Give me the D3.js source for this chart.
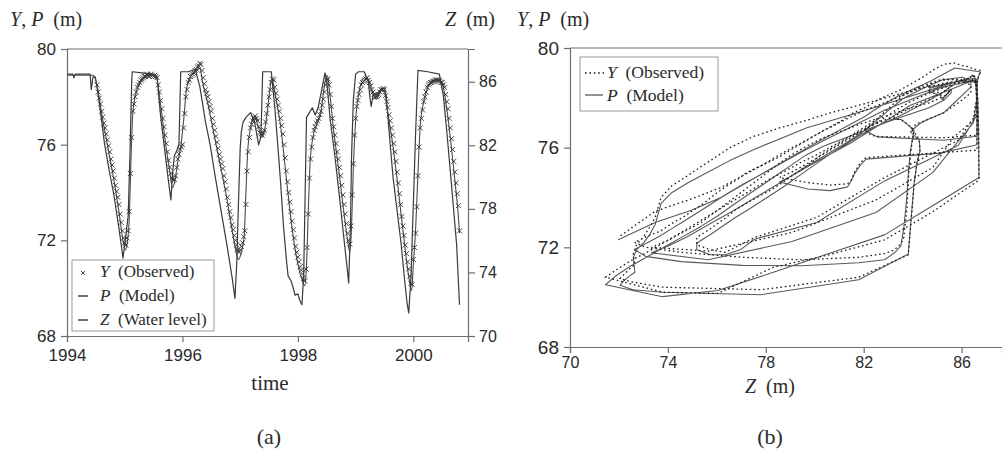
<!DOCTYPE html>
<html><head><meta charset="utf-8">
<script src="https://cdn.jsdelivr.net/npm/d3@7"></script>
<style>body{margin:0;background:#fff} svg{display:block}</style>
</head><body><svg id="c" width="1002" height="449"></svg>
<script>
// ---------------- DATA ----------------
// Observed Y (m), regular sampling every obsStep years, one array per year
const obsStep = 0.02;
const obs1994Start = 1994.52;
const obs1994 = [78.5,78.2,77.95,77.7,77.4, 77.15,76.9,76.7,76.45,76.2, 75.95,75.7,75.4,75.15,74.9, 74.6,74.3,74.05,73.8,73.5, 73.1,72.75,72.4,72.1];
const obs1995 = [71.9,71.8,72.1,72.4,73.2, 74.8,76.3,77.4,77.7,78.0, 78.2,78.4,78.5,78.6,78.7, 78.75,78.8,78.85,78.85,78.95, 78.9,78.85,78.9,78.95,78.9, 78.85,78.9,78.85,78.8,78.5, 78.2,77.85,77.5,77.1,76.75, 76.4,76.05,75.7,75.35,75.05, 74.8,74.6,74.5,74.55,74.7, 75.05,75.4,75.6,75.8,75.9];
const obs1996 = [76.0,76.7,77.3,78.0,78.3, 78.6,78.7,78.85,78.9,78.95, 79.0,79.1,79.15,79.25,79.3, 79.4,79.35,79.1,78.8,78.55, 78.3,78.15,78.0,77.8,77.6, 77.4,77.1,76.85,76.6,76.35, 76.1,75.85,75.6,75.4,75.2, 75.0,74.7,74.45,74.15,73.8, 73.5,73.2,72.95,72.65,72.45, 72.2,72.0,71.8,71.6,71.5];
const obs1997 = [71.6,71.75,71.9,72.15,72.4, 73.5,74.9,75.7,76.3,76.7, 76.85,77.0,77.1,77.2,77.1, 77.0,76.75,76.5,76.45,76.4, 76.5,76.6,76.95,77.3,77.65, 78.0,78.3,78.6,78.75,78.7, 78.4,78.15,77.9,77.65,77.4, 77.1,76.8,76.45,76.0,75.45, 74.9,74.45,74.0,73.6,73.2, 72.8,72.45,72.1,71.75,71.5];
const obs1998 = [71.3,71.1,70.9,70.75,70.6, 70.4,70.3,70.8,71.7,73.1, 74.6,75.4,75.9,76.3,76.6, 76.75,76.9,77.0,77.1,77.25, 77.4,77.65,77.9,78.2,78.5, 78.7,78.75,78.5,78.1,77.6, 77.1,76.75,76.4,76.05,75.7, 75.4,75.05,74.7,74.3,73.9, 73.5,73.1,72.7,72.3,72.0, 71.85,72.6,73.9,75.2,76.4];
const obs1999 = [77.1,77.6,77.85,78.1,78.3, 78.5,78.6,78.65,78.7,78.75, 78.8,78.7,78.6,78.45,78.3, 78.2,78.1,78.0,78.0,78.05, 78.1,78.2,78.3,78.3,78.35, 78.3,78.05,77.8,77.55,77.25, 77.0,76.7,76.4,76.05,75.7, 75.3,74.85,74.4,73.95,73.5, 73.0,72.6,72.2,71.8,71.45, 71.1,70.8,70.5,70.2,70.15];
const obs2000 = [71.2,71.7,72.3,73.4,74.7, 75.9,76.7,77.1,77.45,77.8, 78.0,78.2,78.4,78.5,78.55, 78.6,78.6,78.65,78.65,78.7, 78.7,78.7,78.7,78.65,78.6, 78.6,78.5,78.4,78.1,77.8, 77.5,77.1,76.7,76.25,75.8, 75.3,74.85,74.4,73.95,73.45, 72.4];

// Model P (m)
const pTime = [1994.00,1994.45,1994.52,1994.60,1994.70,1994.80,1994.90,1994.97,1995.01,1995.05,1995.08,1995.11,1995.14,1995.20,1995.30,1995.45,1995.55,1995.62,1995.70,1995.78,1995.83,1995.87,1995.92,1995.97,1996.02,1996.07,1996.15,1996.25,1996.30,1996.35,1996.45,1996.55,1996.65,1996.75,1996.85,1996.93,1996.97,1997.02,1997.07,1997.10,1997.13,1997.18,1997.25,1997.32,1997.38,1997.43,1997.50,1997.55,1997.60,1997.70,1997.80,1997.90,1998.00,1998.08,1998.12,1998.15,1998.18,1998.21,1998.26,1998.32,1998.40,1998.47,1998.51,1998.55,1998.62,1998.70,1998.78,1998.85,1998.90,1998.93,1998.96,1999.00,1999.06,1999.15,1999.22,1999.30,1999.36,1999.44,1999.50,1999.56,1999.65,1999.75,1999.85,1999.92,1999.97,2000.00,2000.04,2000.08,2000.12,2000.18,2000.25,2000.35,2000.45,2000.52,2000.58,2000.65,2000.72,2000.78,2000.80];
const pValue = [78.9,78.9,78.5,77.3,76.0,74.7,73.2,72.0,71.6,72.0,73.0,75.5,77.3,78.2,78.7,78.9,78.8,77.7,76.2,74.9,74.2,74.5,75.3,75.9,77.0,78.3,78.9,79.1,79.2,78.6,77.6,76.4,75.2,74.0,72.6,71.5,71.2,71.5,72.2,74.0,75.7,76.7,77.2,76.7,76.3,76.7,78.0,78.8,78.2,76.8,74.6,72.5,71.0,70.3,70.1,71.0,73.2,75.2,76.3,76.8,77.4,78.6,78.9,78.2,76.6,75.1,73.5,72.2,71.5,72.6,75.0,77.0,78.2,78.8,78.7,78.1,77.9,78.3,78.2,77.3,75.9,73.9,71.8,70.5,69.9,71.0,72.5,74.8,76.8,77.8,78.4,78.7,78.7,78.4,77.5,76.1,74.5,73.0,72.3];

// Water level Z (m)
const zTime = [1994.00,1994.10,1994.12,1994.14,1994.40,1994.42,1994.45,1994.49,1994.55,1994.65,1994.73,1994.81,1994.88,1994.94,1994.97,1995.00,1995.06,1995.09,1995.12,1995.13,1995.30,1995.45,1995.56,1995.62,1995.70,1995.76,1995.80,1995.83,1995.86,1995.90,1995.94,1995.97,1996.10,1996.22,1996.30,1996.40,1996.48,1996.57,1996.67,1996.77,1996.86,1996.91,1996.94,1996.97,1997.00,1997.02,1997.05,1997.10,1997.18,1997.25,1997.32,1997.36,1997.39,1997.48,1997.54,1997.60,1997.65,1997.70,1997.75,1997.80,1997.83,1997.88,1997.92,1997.95,1998.00,1998.03,1998.07,1998.10,1998.13,1998.15,1998.20,1998.25,1998.30,1998.35,1998.40,1998.47,1998.50,1998.56,1998.64,1998.72,1998.80,1998.85,1998.88,1998.91,1998.93,1998.96,1999.00,1999.05,1999.15,1999.22,1999.25,1999.27,1999.30,1999.38,1999.45,1999.50,1999.53,1999.58,1999.65,1999.72,1999.79,1999.85,1999.89,1999.92,1999.96,2000.00,2000.04,2000.08,2000.25,2000.45,2000.52,2000.58,2000.65,2000.70,2000.75,2000.80];
const zValue = [86.48,86.48,86.25,86.48,86.48,85.50,86.30,86.30,84.97,82.09,80.43,78.92,77.26,75.74,74.90,75.74,77.56,81.34,85.87,86.63,86.56,86.48,86.33,83.91,81.49,79.68,78.56,80.28,81.34,81.64,82.09,86.63,86.63,86.78,85.72,83.46,82.03,79.98,77.86,75.74,73.69,72.37,74.54,78.31,81.79,82.85,83.46,83.76,84.06,83.46,82.03,82.55,86.63,86.63,86.63,84.36,82.09,79.68,76.95,74.84,73.78,73.48,73.02,72.57,72.65,72.27,71.97,73.78,79.83,83.76,84.06,84.36,83.91,84.36,85.27,86.56,86.03,83.61,81.34,78.77,76.05,74.38,73.33,76.80,81.34,84.82,86.48,86.63,86.63,86.03,84.97,84.44,85.12,85.27,85.57,85.57,85.12,82.85,79.93,77.86,75.74,73.48,72.12,71.45,73.78,78.31,82.85,86.71,86.63,86.48,85.12,82.85,79.98,77.86,75.74,71.97];

// Ticks
const ypTicks = [68, 72, 76, 80];
const timeTicks = [1994, 1996, 1998, 2000];
const zTicksA = [70, 74, 78, 82, 86];
const zTicksB = [70, 74, 78, 82, 86];

// ---------------- BUILD ----------------
const obsBlocks = [[obs1994Start, obs1994],[1995, obs1995],[1996, obs1996],[1997, obs1997],[1998, obs1998],[1999, obs1999],[2000, obs2000]];
const obs = [];
obsBlocks.forEach(([s, arr]) => arr.forEach((v, i) => obs.push({t: +(s + i*obsStep).toFixed(3), y: v})));
const model = pTime.map((t, i) => ({t, v: pValue[i]}));
const water = zTime.map((t, i) => ({t, v: zValue[i]}));

const svg = d3.select('#c');
const INK = '#2a2a2a', AX = '#6e6e6e', LN = '#3a3a3a';
const SERIF = '"Liberation Serif", "DejaVu Serif", serif';
const SANS = '"Liberation Sans", Arial, sans-serif';

// Panel A scales
const xA = d3.scaleLinear().domain([1994, 2000.947]).range([67, 468]);
const yA = d3.scaleLinear().domain([68, 80]).range([336, 49]);
const zA = d3.scaleLinear().domain([70, 88.06]).range([336, 49]);
// Panel B scales
const xB = d3.scaleLinear().domain([70, 87.65]).range([570, 1002]);
const yB = d3.scaleLinear().domain([68, 80]).range([347, 48]);
// piecewise time -> value scales (library interpolation)
const zOfT = d3.scaleLinear().domain(zTime).range(zValue).clamp(true);
const pOfT = d3.scaleLinear().domain(pTime).range(pValue).clamp(true);

const defs = svg.append('defs');
defs.append('clipPath').attr('id','clipA').append('rect').attr('x',67).attr('y',49).attr('width',401).attr('height',287);
defs.append('clipPath').attr('id','clipB').append('rect').attr('x',570).attr('y',48).attr('width',432).attr('height',299);

function styleAxis(g, fs){
  g.selectAll('.domain').attr('stroke', AX).attr('stroke-width', 1.2);
  g.selectAll('.tick line').attr('stroke', AX).attr('stroke-width', 1.2);
  g.selectAll('.tick text').attr('fill', INK).style('font-family', SANS).style('font-size', fs + 'px');
}

// ---- Panel A ----
const gA = svg.append('g');
gA.append('line').attr('x1',67).attr('x2',468).attr('y1',49).attr('y2',49).attr('stroke',AX).attr('stroke-width',1.2);
const axL = gA.append('g').attr('transform','translate(67,0)')
  .call(d3.axisLeft(yA).tickValues(ypTicks).tickSize(6).tickPadding(5).tickFormat(d3.format('d')));
styleAxis(axL, 17);
const axB = gA.append('g').attr('transform','translate(0,336)')
  .call(d3.axisBottom(xA).tickValues(timeTicks).tickSize(6).tickPadding(7).tickFormat(d3.format('d')));
styleAxis(axB, 17);
const axR = gA.append('g').attr('transform','translate(468,0)')
  .call(d3.axisRight(zA).tickValues(zTicksA).tickSize(7).tickPadding(4).tickFormat(d3.format('d')));
styleAxis(axR, 16);

const plotA = gA.append('g').attr('clip-path','url(#clipA)');
plotA.append('path').datum(water).attr('fill','none').attr('stroke',LN).attr('stroke-width',1.2)
  .attr('stroke-linejoin','round')
  .attr('d', d3.line().x(d => xA(d.t)).y(d => zA(d.v)));
plotA.append('path').datum(model).attr('fill','none').attr('stroke','#4a4a4a').attr('stroke-width',1.1)
  .attr('stroke-linejoin','round')
  .attr('d', d3.line().curve(d3.curveMonotoneX).x(d => xA(d.t)).y(d => yA(d.v)));
const cross = 'M-2.5,-2.5L2.5,2.5M-2.5,2.5L2.5,-2.5';
plotA.selectAll('path.obs').data(obs).join('path').attr('class','obs')
  .attr('transform', d => `translate(${xA(d.t)},${yA(d.y)})`)
  .attr('d', cross).attr('stroke', '#333').attr('stroke-width', 0.9).attr('fill','none');

// Legend A
const lgA = gA.append('g');
lgA.append('rect').attr('x',72).attr('y',260).attr('width',142).attr('height',71).attr('fill','#fff').attr('stroke','#9a9a9a').attr('stroke-width',1);
lgA.append('path').attr('transform','translate(83,273)').attr('d','M-2,-2L2,2M-2,2L2,-2').attr('stroke','#333').attr('stroke-width',0.9);
lgA.append('line').attr('x1',78).attr('x2',88).attr('y1',296).attr('y2',296).attr('stroke',LN).attr('stroke-width',1.4);
lgA.append('line').attr('x1',78).attr('x2',88).attr('y1',320).attr('y2',320).attr('stroke',LN).attr('stroke-width',1.4);
function mathText(g, x, y, parts, fs, anchor){
  const t = g.append('text').attr('x',x).attr('y',y).attr('fill',INK)
    .style('font-family',SERIF).style('font-size',fs+'px').attr('text-anchor',anchor||'start');
  parts.forEach(([s, it]) => t.append('tspan').text(s).style('font-style', it ? 'italic' : 'normal'));
  return t;
}
mathText(lgA, 100, 277, [['Y',1],['\u2002(Observed)',0]], 17);
mathText(lgA, 100, 301, [['P',1],['\u2002(Model)',0]], 17);
mathText(lgA, 100, 325, [['Z',1],['\u2002(Water level)',0]], 17);

// Axis titles A
mathText(svg, 10, 26, [['Y',1],[', ',0],['P',1],['\u2002(m)',0]], 20);
mathText(svg, 445, 26, [['Z',1],['\u2002(m)',0]], 20);
mathText(svg, 270, 390, [['time',0]], 21, 'middle');
mathText(svg, 269, 444, [['(a)',0]], 22, 'middle');

// ---- Panel B ----
const gB = svg.append('g');
gB.append('line').attr('x1',570).attr('x2',1002).attr('y1',48).attr('y2',48).attr('stroke',AX).attr('stroke-width',1.2);
const bL = gB.append('g').attr('transform','translate(570,0)')
  .call(d3.axisLeft(yB).tickValues(ypTicks).tickSize(6).tickPadding(5).tickFormat(d3.format('d')));
styleAxis(bL, 19);
const bB = gB.append('g').attr('transform','translate(0,347)')
  .call(d3.axisBottom(xB).tickValues(zTicksB).tickSize(6).tickPadding(4).tickFormat(d3.format('d')));
styleAxis(bB, 16);

const plotB = gB.append('g').attr('clip-path','url(#clipB)');
const loopP = obs.map(d => ({z: zOfT(d.t), v: pOfT(d.t)}));
const loopY = obs.map(d => ({z: zOfT(d.t), v: d.y}));
plotB.append('path').datum(loopP).attr('fill','none').attr('stroke','#5a5a5a').attr('stroke-width',1.1)
  .attr('stroke-linejoin','round')
  .attr('d', d3.line().x(d => xB(d.z)).y(d => yB(d.v)));
plotB.append('path').datum(loopY).attr('fill','none').attr('stroke','#1e1e1e').attr('stroke-width',1.3)
  .attr('stroke-dasharray','1.6,2.8')
  .attr('d', d3.line().x(d => xB(d.z)).y(d => yB(d.v)));

// Legend B
const lgB = gB.append('g');
lgB.append('rect').attr('x',580).attr('y',57).attr('width',138).attr('height',54).attr('fill','#fff').attr('stroke','#9a9a9a').attr('stroke-width',1);
lgB.append('line').attr('x1',585).attr('x2',604).attr('y1',73).attr('y2',73).attr('stroke','#1e1e1e').attr('stroke-width',1.3).attr('stroke-dasharray','1.6,2.8');
lgB.append('line').attr('x1',585).attr('x2',603).attr('y1',95).attr('y2',95).attr('stroke','#5a5a5a').attr('stroke-width',1.3);
mathText(lgB, 607, 78, [['Y',1],['\u2002(Observed)',0]], 17.5);
mathText(lgB, 607, 101, [['P',1],['\u2002(Model)',0]], 17.5);

mathText(svg, 517, 26, [['Y',1],[', ',0],['P',1],['\u2002(m)',0]], 20);
mathText(svg, 770, 393, [['Z',1],['\u2002(m)',0]], 20, 'middle');
mathText(svg, 770, 444, [['(b)',0]], 22, 'middle');
</script>
</body></html>
